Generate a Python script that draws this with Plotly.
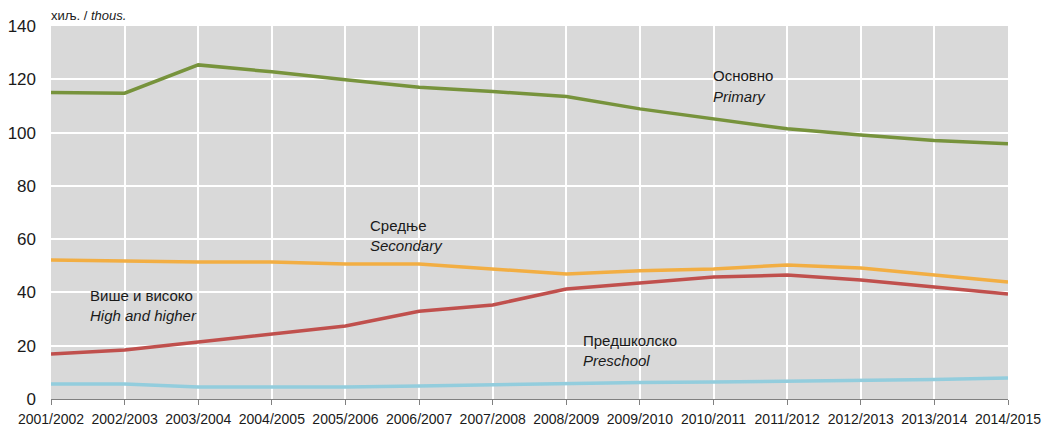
import plotly.graph_objects as go

years = ["2001/2002", "2002/2003", "2003/2004", "2004/2005", "2005/2006", "2006/2007",
         "2007/2008", "2008/2009", "2009/2010", "2010/2011", "2011/2012", "2012/2013",
         "2013/2014", "2014/2015"]
primary = [115.0, 114.8, 125.4, 122.8, 119.8, 117.0, 115.4, 113.5, 108.9, 105.1, 101.4, 99.1, 97.0, 95.8]
secondary = [52.2, 51.8, 51.4, 51.4, 50.7, 50.7, 48.8, 46.9, 48.1, 48.8, 50.3, 49.2, 46.5, 43.9]
higher = [16.9, 18.4, 21.4, 24.4, 27.4, 32.9, 35.3, 41.3, 43.6, 45.8, 46.5, 44.7, 42.0, 39.4]
preschool = [5.6, 5.6, 4.5, 4.5, 4.5, 4.9, 5.3, 6.0, 6.2, 6.4, 6.6, 7.1, 7.3, 7.9]
y_ticks = [0, 20, 40, 60, 80, 100, 120, 140]

FONT = "Liberation Sans, Arial, sans-serif"

fig = go.Figure()
series = [
    (primary, "#77933c"),
    (secondary, "#f2ae43"),
    (higher, "#c0504d"),
    (preschool, "#93cddd"),
]
for vals, col in series:
    fig.add_trace(go.Scatter(x=list(range(len(years))), y=vals, mode="lines",
                             line=dict(color=col, width=3.5), showlegend=False,
                             hoverinfo="skip"))

labels = [
    (8.97, 121.6, "Основно", False),
    (8.97, 113.4, "Primary", True),
    (4.31, 65.3, "Средње", False),
    (4.31, 57.8, "Secondary", True),
    (0.5, 38.7, "Више и високо", False),
    (0.5, 31.2, "High and higher", True),
    (7.2, 22.1, "Предшколско", False),
    (7.2, 14.6, "Preschool", True),
]
for x, y, t, it in labels:
    fig.add_annotation(x=x, y=y, xref="x", yref="y", text=f"<i>{t}</i>" if it else t,
                       showarrow=False, xanchor="left", yanchor="middle",
                       font=dict(family=FONT, size=15, color="#1a1a1a"))

fig.add_annotation(x=-0.002, y=1.027, xref="paper", yref="paper",
                   text="хиљ. / <i>thous.</i>", showarrow=False,
                   xanchor="left", yanchor="middle",
                   font=dict(family=FONT, size=13, color="#1a1a1a"))

fig.update_layout(
    width=1043, height=428,
    margin=dict(l=51, r=35, t=26, b=29, autoexpand=False),
    paper_bgcolor="white", plot_bgcolor="#d9d9d9",
    font=dict(family=FONT, size=14, color="#1a1a1a"),
)
fig.update_xaxes(
    range=[0, len(years) - 1], tickmode="array",
    tickvals=list(range(len(years))), ticktext=years, tickangle=0,
    showgrid=True, gridcolor="white", gridwidth=2,
    showline=True, linecolor="#808080", linewidth=1,
    ticks="outside", ticklen=5, tickcolor="#808080", ticklabelstandoff=2,
    zeroline=False, tickfont=dict(family=FONT, size=14), automargin=False,
)
fig.update_yaxes(
    range=[0, 140], tickmode="array", tickvals=y_ticks,
    showgrid=True, gridcolor="white", gridwidth=2,
    zeroline=False, showline=False, ticks="", ticklabelstandoff=14,
    tickfont=dict(family=FONT, size=17), automargin=False,
)

fig.write_html("out.html", config={"displayModeBar": False},
               post_script="document.body.style.margin='0';document.body.style.overflow='hidden';")
